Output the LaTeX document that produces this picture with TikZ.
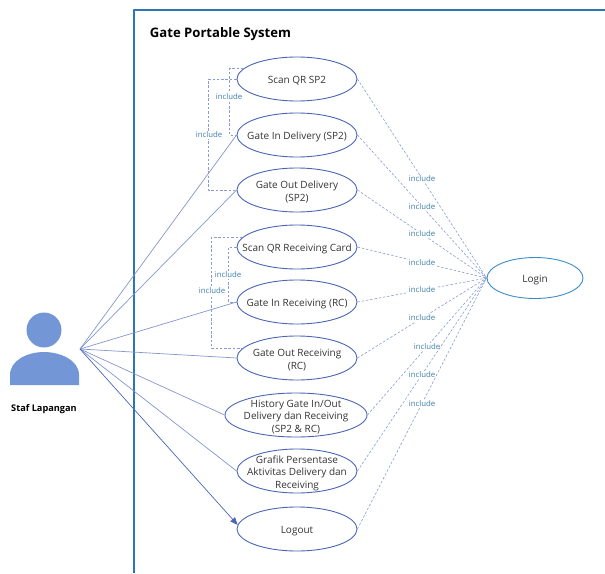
\documentclass[tikz,border=0pt]{standalone}
\usepackage{fontspec}
\setmainfont{Open Sans}
\usetikzlibrary{arrows,shapes.geometric}
\definecolor{usecase}{HTML}{4A66B5}
\definecolor{frameblue}{HTML}{2E75B6}
\definecolor{loginblue}{HTML}{3A8CCB}
\definecolor{actorfill}{HTML}{7397D6}
\definecolor{linkblue}{HTML}{8396CE}
\definecolor{dashblue}{HTML}{8A9BD2}
\definecolor{labelblue}{HTML}{3F7FA8}
\tikzset{
  usecasenode/.style={draw=usecase,line width=0.9pt,ellipse,minimum width=120pt,minimum height=44pt,inner sep=0pt},
  casetext/.style={yshift=-2pt,inner sep=0pt,align=center,text=black!80,font=\fontsize{10}{12.4}\selectfont},
  actline/.style={color=linkblue,line width=0.7pt},
  inclline/.style={color=dashblue,line width=0.6pt,dash pattern=on 2.5pt off 1.8pt},
  incllabel/.style={fill=white,inner sep=0.6pt,text=labelblue,font=\fontsize{7.8}{9}\selectfont}
}
\begin{document}
\begin{tikzpicture}[line cap=butt,line join=round,>=triangle 45,x=1pt,y=-1pt]
    \useasboundingbox (0,0) rectangle (605,573);
    % system frame
    \draw[color=frameblue,line width=1.3pt] (605,10) -- (134,10) -- (134,573);
    \node (title) at (220.5,34) {\fontsize{13.1}{16}\selectfont\bfseries Gate Portable System};
    % actor
    \node (head) [circle,fill=actorfill,minimum size=35pt,inner sep=0pt] at (44,330) {};
    \fill[color=actorfill] (10,385) -- (10,375) .. controls (10,360) and (28,352) .. (44,352) .. controls (60,352) and (79,360) .. (79,375) -- (79,385) -- cycle;
    \node (staf) at (44,409) {\fontsize{9.2}{11}\selectfont\bfseries Staf Lapangan};
    \coordinate (hub) at (80,349);
    % use cases
    \node[usecasenode,label={[casetext]center:Scan QR SP2}] (scansp) at (297,79) {};
    \node[usecasenode,label={[casetext]center:Gate In Delivery (SP2)}] (gatein) at (297,135) {};
    \node[usecasenode,label={[casetext]center:Gate Out Delivery\\(SP2)}] (gateout) at (297,190) {};
    \node[usecasenode,label={[casetext]center:Scan QR Receiving Card}] (scanrc) at (297,247) {};
    \node[usecasenode,label={[casetext]center:Gate In Receiving (RC)}] (rcin) at (297,302) {};
    \node[usecasenode,label={[casetext]center:Gate Out Receiving\\(RC)}] (rcout) at (297,358) {};
    \node[usecasenode,minimum width=142pt,label={[casetext]center:History Gate In/Out\\Delivery dan Receiving\\(SP2 \& RC)}] (history) at (296,415) {};
    \node[usecasenode,label={[casetext]center:Grafik Persentase\\Aktivitas Delivery dan\\Receiving}] (grafik) at (297,471) {};
    \node[usecasenode,label={[casetext]center:Logout}] (logout) at (297,529) {};
    \node[usecasenode,draw=loginblue,minimum width=96pt,minimum height=41pt,label={[casetext]center:Login}] (login) at (535,278) {};
    % actor links
    \foreach \n in {gatein,gateout,rcin,rcout,history,grafik}
    \draw[actline] (hub) -- (\n.west);
    \draw[->,color=usecase,line width=0.7pt] (hub) -- (logout.176);
    % include to login
    \foreach \n in {scansp,gatein,gateout,scanrc,rcin,rcout,history,grafik,logout}
    \draw[inclline] (\n.east) -- node[incllabel] {include} (login.west);
    % include on the left
    \draw[inclline] (scansp.169) -- ++(-14,0) |- (gatein.west);
    \draw[inclline] (scansp.west) -- ++(-28,0) |- (gateout.west);
    \draw[inclline] (scanrc.west) -- ++(-8,0) |- (rcin.west);
    \draw[inclline] (scanrc.170) -- ++(-31,0) |- (rcout.170);
    \node[incllabel] (inca) at (229,97) {include};
    \node[incllabel] (incb) at (209,135) {include};
    \node[incllabel] (incc) at (228,275) {include};
    \node[incllabel] (incd) at (212,291) {include};
\end{tikzpicture}
\end{document}
